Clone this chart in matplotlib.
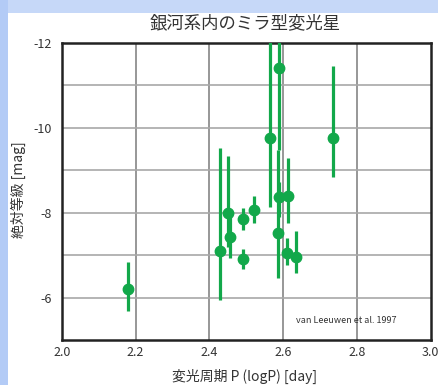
import matplotlib
matplotlib.use("Agg")
import matplotlib.pyplot as plt
from matplotlib.patches import Rectangle
import numpy as np

plt.rcParams['font.family'] = ['Noto Sans CJK JP', 'DejaVu Sans']
plt.rcParams['axes.unicode_minus'] = False

# Data: log period, absolute magnitude, error bar limits (bright end, faint end)
logP = [2.179, 2.429, 2.451, 2.456, 2.492, 2.490, 2.521, 2.565, 2.590, 2.590,
        2.587, 2.612, 2.611, 2.635, 2.736]
mag = [-6.19, -7.10, -8.00, -7.43, -7.85, -6.91, -8.05, -9.75, -11.41, -8.36,
       -7.51, -8.40, -7.04, -6.96, -9.76]
mag_bright = [-6.83, -9.51, -9.33, -7.90, -8.10, -7.14, -8.39, -13.5, -13.5, -8.73,
              -9.47, -9.28, -7.39, -7.57, -11.45]
mag_faint = [-5.69, -5.94, -7.20, -6.92, -7.59, -6.66, -7.75, -8.14, -9.47, -7.90,
             -6.45, -7.76, -6.77, -6.58, -8.84]

xticks = [2.0, 2.2, 2.4, 2.6, 2.8, 3.0]
yticks = [-12, -10, -8, -6]

title = "銀河系内のミラ型変光星"
xlabel = "変光周期 P (logP) [day]"
ylabel = "絶対等級 [mag]"
credit = "van Leeuwen et al. 1997"

green = '#12a84a'

fig = plt.figure(figsize=(4.38, 3.85), dpi=100)
fig.patch.set_facecolor('white')
# slide background strips
fig.patches.append(Rectangle((0, 1 - 13/385), 1, 13/385, transform=fig.transFigure,
                             facecolor='#c6d8f8', edgecolor='none', zorder=0))
fig.patches.append(Rectangle((0, 0), 8/438, 1, transform=fig.transFigure,
                             facecolor='#b3cbf6', edgecolor='none', zorder=0))

ax = fig.add_axes([61.7/438, 1 - 340/385, 369/438, 297.3/385])
ax.set_xlim(2.0, 3.0)
ax.set_ylim(-5, -12)

ax.set_xticks(xticks)
ax.set_xticklabels([f"{t:.1f}" for t in xticks])
ax.set_yticks(yticks)
ax.set_yticklabels([str(t) for t in yticks])
ax.set_yticks(np.arange(-12, -4), minor=True)
ax.tick_params(which='both', length=0, labelsize=9, colors='#333333')
ax.tick_params(axis='x', pad=4)
ax.tick_params(axis='y', pad=7)

for t in [2.2, 2.4, 2.6, 2.8]:
    ax.axvline(t, color='#7a7a7a', lw=1.1, zorder=1)
for t in range(-11, -5):
    ax.axhline(t, color='#a8a8a8', lw=1.2, zorder=1)

for s in ax.spines.values():
    s.set_linewidth(1.8)
    s.set_color('#222222')

m = np.array(mag)
yerr = np.vstack([m - np.array(mag_bright), np.array(mag_faint) - m])
yerr = np.abs(yerr)
ax.errorbar(logP, mag, yerr=yerr, fmt='o', color=green, ms=7.5, elinewidth=2.3,
            capsize=0, zorder=3)

ax.text(0.635, 0.065, credit, transform=ax.transAxes, fontsize=6.5,
        color='#333333', va='center', ha='left')

fig.text(245/438, 1 - 23/385, title, fontsize=12.5, color='#333333',
         ha='center', va='center')
fig.text(245/438, 1 - 376/385, xlabel, fontsize=10, color='#333333',
         ha='center', va='center')
fig.text(18/438, 1 - 190/385, ylabel, fontsize=10, color='#333333',
         ha='center', va='center', rotation=90)

fig.savefig('out.png', dpi=100)
